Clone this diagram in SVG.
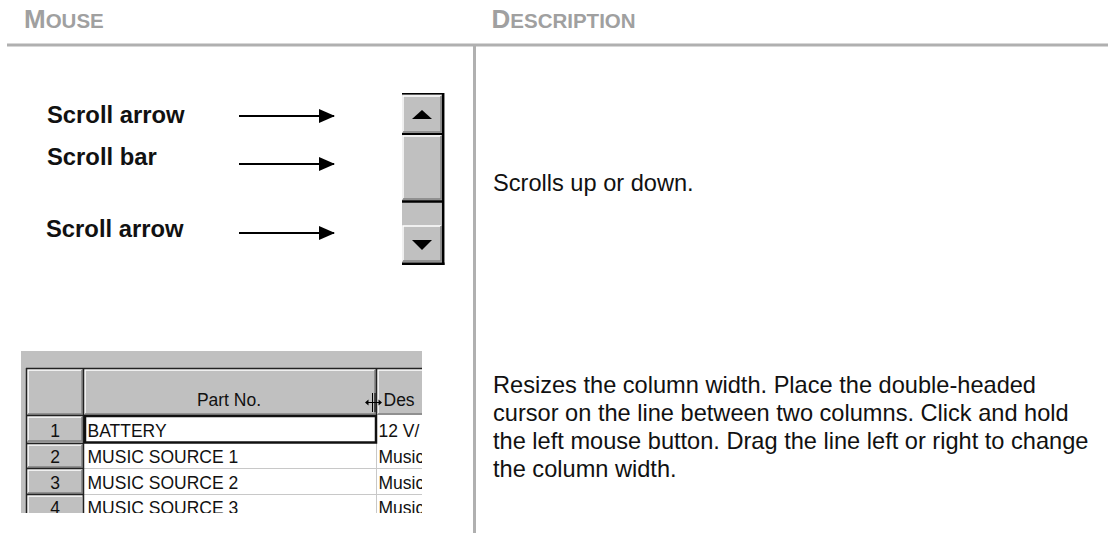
<svg xmlns="http://www.w3.org/2000/svg" width="1108" height="533" viewBox="0 0 1108 533">
<defs>
<style>
.hdr{font-family:"Liberation Sans",Arial,sans-serif;font-weight:bold;fill:#a0a0a0}
.lbl{font-family:"Liberation Sans",Arial,sans-serif;font-weight:bold;font-size:23.8px;fill:#111}
.desc{font-family:"Liberation Sans",Arial,sans-serif;font-size:23.6px;fill:#111}
.tbl{font-family:"Liberation Sans",Arial,sans-serif;font-size:17.5px;fill:#111}
.rule{stroke:#b0b0b0;stroke-width:3;fill:none}
.btn{fill:#c0c0c0}
.hi{stroke:#fff;stroke-width:1.5;fill:none}
.sh{stroke:#808080;stroke-width:1.5;fill:none}
.blk{stroke:#000;fill:none}
.conn{stroke:#000;stroke-width:2;fill:none}
</style>
<marker id="ah" viewBox="0 0 16 14" refX="15" refY="7" markerWidth="16" markerHeight="14" markerUnits="userSpaceOnUse" orient="auto">
<path d="M0,0 L16,7 L0,14 Z" fill="#000"/>
</marker>
<clipPath id="tclip"><rect x="21" y="351" width="401" height="162"/></clipPath>
</defs>
<rect width="1108" height="533" fill="#fff"/>

<g id="page-frame">
<line class="rule" x1="7" y1="45" x2="1108" y2="45"/>
<line class="rule" x1="474.5" y1="46" x2="474.5" y2="533"/>
<text class="hdr" x="24" y="27.5"><tspan font-size="26">M</tspan><tspan font-size="20.5">OUSE</tspan></text>
<text class="hdr" x="491.5" y="27.5"><tspan font-size="26">D</tspan><tspan font-size="20.5">ESCRIPTION</tspan></text>
</g>

<g id="label-scroll-arrow-up"><text class="lbl" x="47" y="123">Scroll arrow</text></g>
<g id="label-scroll-bar"><text class="lbl" x="47" y="165">Scroll bar</text></g>
<g id="label-scroll-arrow-down"><text class="lbl" x="46" y="237">Scroll arrow</text></g>

<g id="connectors">
<line class="conn" x1="239" y1="116" x2="334" y2="116" marker-end="url(#ah)"/>
<line class="conn" x1="239" y1="164" x2="334" y2="164" marker-end="url(#ah)"/>
<line class="conn" x1="239" y1="233" x2="334" y2="233" marker-end="url(#ah)"/>
</g>

<g id="scrollbar">
<rect x="402" y="93" width="42" height="172" fill="#c0c0c0"/>
<rect class="btn" x="402" y="94" width="40" height="39"/>
<polyline class="hi" points="403,132 403,96 441,96"/>
<polyline class="sh" points="403,132 441,132 441,96"/>
<polygon points="422,110 432,119 412,119" fill="#000"/>
<rect class="btn" x="402" y="135" width="40" height="65"/>
<polyline class="hi" points="403,199 403,136 441,136"/>
<polyline class="sh" points="403,199 441,199 441,136"/>
<rect x="402" y="203" width="40" height="22" fill="#c0c0c0"/>
<rect class="btn" x="402" y="225" width="40" height="37"/>
<polyline class="hi" points="403,261 403,226 441,226"/>
<polyline class="sh" points="403,261 441,261 441,226"/>
<polygon points="412,240 432,240 422,250" fill="#000"/>
<line class="blk" stroke-width="1.5" x1="402" y1="93.75" x2="444" y2="93.75"/>
<line class="blk" stroke-width="2" x1="402" y1="134" x2="442" y2="134"/>
<line class="blk" stroke-width="2.5" x1="402" y1="201.5" x2="442" y2="201.5"/>
<line class="blk" stroke-width="2.5" x1="443.2" y1="93" x2="443.2" y2="265"/>
<line class="blk" stroke-width="2.5" x1="402" y1="263.8" x2="444.5" y2="263.8"/>
</g>

<g id="desc-scroll"><text class="desc" x="493" y="190.5">Scrolls up or down.</text></g>

<g id="table-screenshot">
<g clip-path="url(#tclip)">
<rect x="21" y="351" width="401" height="162" fill="#c0c0c0"/>
<rect x="84" y="415" width="338" height="98" fill="#fff"/>
<g stroke="#c8c8c8" stroke-width="1">
<line x1="84" y1="468.5" x2="422" y2="468.5"/>
<line x1="84" y1="494.5" x2="422" y2="494.5"/>
<line x1="376.5" y1="443" x2="376.5" y2="513"/>
</g>
<rect class="btn" x="27" y="369" width="56" height="46"/>
<polyline class="hi" points="28,414 28,370 82,370"/>
<polyline class="sh" points="28,414 82,414 82,370"/>
<rect class="btn" x="84" y="369" width="292" height="46"/>
<polyline class="hi" points="85,414 85,370 375,370"/>
<polyline class="sh" points="85,414 375,414 375,370"/>
<rect class="btn" x="377" y="369" width="45" height="46"/>
<polyline class="hi" points="378,414 378,370 422,370"/>
<line class="sh" x1="378" y1="414" x2="422" y2="414"/>
<g>
<rect class="btn" x="27" y="416" width="56" height="26"/>
<polyline class="hi" points="28,441 28,417 82,417"/>
<polyline class="sh" points="28,441 82,441 82,417"/>
<rect class="btn" x="27" y="444" width="56" height="24"/>
<polyline class="hi" points="28,467 28,445 82,445"/>
<polyline class="sh" points="28,467 82,467 82,445"/>
<rect class="btn" x="27" y="469" width="56" height="25"/>
<polyline class="hi" points="28,493 28,470 82,470"/>
<polyline class="sh" points="28,493 82,493 82,470"/>
<rect class="btn" x="27" y="495" width="56" height="18"/>
<polyline class="hi" points="28,513 28,496 82,496"/>
</g>
<g stroke="#222" stroke-width="1.5" fill="none">
<line x1="26" y1="368.5" x2="422" y2="368.5"/>
<line x1="26.5" y1="368" x2="26.5" y2="513"/>
<line x1="83.5" y1="368" x2="83.5" y2="513"/>
<line x1="376.5" y1="368" x2="376.5" y2="415"/>
<line x1="26" y1="415.5" x2="84" y2="415.5"/>
<line x1="26" y1="443.5" x2="84" y2="443.5"/>
<line x1="26" y1="468.5" x2="84" y2="468.5"/>
<line x1="26" y1="494.5" x2="84" y2="494.5"/>
</g>
<rect x="85" y="416" width="291" height="26.5" fill="none" stroke="#111" stroke-width="2.5"/>
<text class="tbl" x="229" y="406" text-anchor="middle">Part No.</text>
<text class="tbl" x="383.5" y="406">Des</text>
<g text-anchor="middle">
<text class="tbl" x="55" y="436.5">1</text>
<text class="tbl" x="55" y="463">2</text>
<text class="tbl" x="55" y="489">3</text>
<text class="tbl" x="55" y="514">4</text>
</g>
<text class="tbl" x="87.5" y="436.5">BATTERY</text>
<text class="tbl" x="87.5" y="463">MUSIC SOURCE 1</text>
<text class="tbl" x="87.5" y="489">MUSIC SOURCE 2</text>
<text class="tbl" x="87.5" y="514">MUSIC SOURCE 3</text>
<text class="tbl" x="378.5" y="436.5">12 V/</text>
<text class="tbl" x="378.5" y="463">Music</text>
<text class="tbl" x="378.5" y="489">Music</text>
<text class="tbl" x="378.5" y="514">Music</text>
<g stroke="#000" stroke-width="1" fill="none">
<line x1="372.5" y1="393" x2="372.5" y2="412"/>
<line x1="375" y1="393" x2="375" y2="412"/>
<line x1="366" y1="402.5" x2="381" y2="402.5"/>
</g>
<path d="M365,402.5 L368.5,399.5 L368.5,405.5 Z M382,402.5 L378.5,399.5 L378.5,405.5 Z" fill="#000"/>
</g>
</g>

<g id="desc-resize">
<text class="desc" x="493" y="392.5">Resizes the column width. Place the double-headed</text>
<text class="desc" x="493" y="420.5">cursor on the line between two columns. Click and hold</text>
<text class="desc" x="493" y="448.5">the left mouse button. Drag the line left or right to change</text>
<text class="desc" x="493" y="476.5">the column width.</text>
</g>
</svg>
